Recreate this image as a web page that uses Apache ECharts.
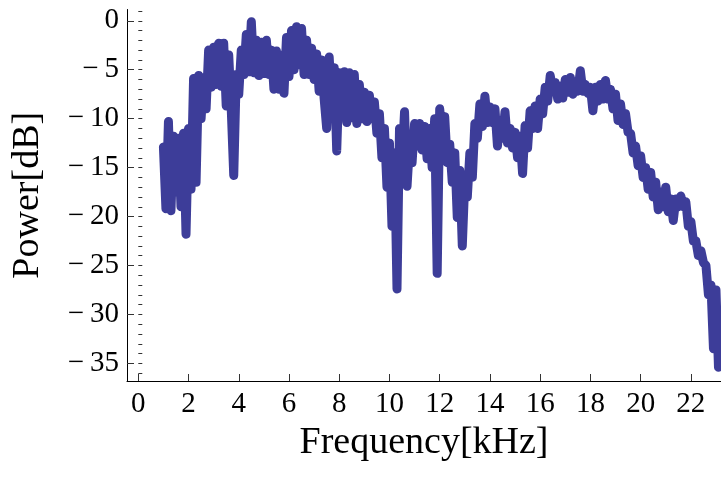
<!DOCTYPE html>
<html>
<head>
<meta charset="utf-8">
<script src="https://cdn.jsdelivr.net/npm/echarts@6/dist/echarts.min.js"></script>
<style>
  html, body { margin: 0; padding: 0; background: #ffffff; }
  #chart { width: 721px; height: 483px; }
</style>
</head>
<body>
<div id="chart"></div>
<script>
// Measured power spectrum, one reading every 0.1 kHz starting at 1.0 kHz.
const startKHz = 1.0;
const stepKHz = 0.1;
const powerDb = [
  -12.9, -19.2, -10.3, -19.4, -11.8, -17.5, -12.0, -19.0, -11.5, -21.8,   // 1.0 - 1.9
  -11.0, -17.2,  -5.9, -16.5,  -5.6, -10.0,  -5.8,  -9.0,  -3.0,  -6.8,   // 2.0 - 2.9
   -2.7,  -6.5,  -2.3,  -6.7,  -2.3,  -8.7,  -3.5,  -9.0, -15.8,  -5.5,   // 3.0 - 3.9
   -7.5,  -3.0,  -5.5,  -1.4,  -5.2,  -0.1,  -5.3,  -2.0,  -5.6,  -2.2,   // 4.0 - 4.9
   -5.4,  -2.0,  -5.5,  -3.0,  -7.0,  -3.1,  -7.0,  -3.5,  -7.4,  -1.7,   // 5.0 - 5.9
   -5.7,  -1.0,  -5.0,  -0.6,  -4.5,  -0.8,  -5.5,  -2.0,  -5.5,  -2.8,   // 6.0 - 6.9
   -6.0,  -3.4,  -7.2,  -4.0,  -8.0, -11.0,  -3.7,  -8.5,  -4.8, -13.3,   // 7.0 - 7.9
   -5.3,  -9.7,  -5.2, -10.4,  -5.3,  -9.9,  -5.5, -10.5,  -6.5, -10.0,   // 8.0 - 8.9
   -7.3, -10.3,  -7.6, -10.0,  -8.3, -11.5,  -9.5, -14.0, -11.0, -17.0,   // 9.0 - 9.9
  -12.5, -21.0, -13.5, -27.4, -11.0, -14.5,  -9.3, -16.9, -12.6, -14.5,   // 10.0 - 10.9
  -10.5, -12.8, -10.5, -13.2, -10.8, -14.1, -11.0, -15.0, -10.0, -25.8,   // 11.0 - 11.9
   -9.0, -11.5,  -9.8, -14.5, -12.6, -16.5, -13.5, -20.1, -15.3, -23.0,   // 12.0 - 12.9
  -16.3, -18.0, -13.5, -16.0, -10.5, -12.0,  -8.5, -10.8,  -7.7, -10.4,   // 13.0 - 13.9
   -8.8, -10.4,  -9.0, -12.8, -10.5, -12.0,  -9.3, -12.5, -11.0, -13.0,   // 14.0 - 14.9
  -11.4, -14.0, -11.8, -15.6, -10.7, -13.0,  -9.2, -11.0,  -8.7, -11.0,   // 15.0 - 15.9
   -8.0,  -9.5,  -6.8,  -8.2,  -5.6,  -7.0,  -6.3,  -8.0,  -6.7,  -7.9,   // 16.0 - 16.9
   -6.0,  -7.3,  -5.8,  -7.5,  -6.2,  -7.2,  -5.1,  -7.2,  -6.5,  -7.4,   // 17.0 - 17.9
   -6.8,  -9.2,  -6.8,  -8.2,  -6.5,  -8.0,  -6.1,  -8.0,  -7.0,  -9.0,   // 18.0 - 18.9
   -7.5, -10.2,  -8.5, -10.6,  -9.5, -11.4, -11.5, -13.5, -12.8, -14.8,   // 19.0 - 19.9
  -13.8, -16.0, -15.0, -17.2, -15.5, -18.0, -16.5, -19.3, -17.5, -19.0,   // 20.0 - 20.9
  -17.0, -19.5, -18.2, -20.4, -18.2, -19.0, -17.9, -19.0, -18.5, -21.0,   // 21.0 - 21.9
  -20.5, -22.5, -22.5, -24.0, -23.5, -24.7, -25.0, -28.0, -27.0, -33.5,   // 22.0 - 22.9
  -27.5, -35.4                                                            // 23.0 - 23.1
];

const freqTicks = [0, 2, 4, 6, 8, 10, 12, 14, 16, 18, 20, 22];
const powerTicks = [-35, -30, -25, -20, -15, -10, -5, 0];
const powerMinorTicks = [-36, -35, -34, -33, -32, -31, -30, -29, -28, -27, -26, -25,
  -24, -23, -22, -21, -20, -19, -18, -17, -16, -15, -14, -13, -12, -11, -10,
  -9, -8, -7, -6, -5, -4, -3, -2, -1, 0, 1];

const SERIF = "'Liberation Serif', 'Times New Roman', serif";
const MARK = '#3d3d99';

// Pair each reading with its frequency (index-based grid avoids float drift).
const points = powerDb.map((p, i) => [(startKHz * 10 + i * stepKHz * 10) / 10, p]);

const minusLabel = v => (v < 0 ? '\u2212\u2009' + Math.abs(v) : String(v));

const chart = echarts.init(document.getElementById('chart'), null, { renderer: 'canvas' });
chart.setOption({
  animation: false,
  backgroundColor: '#ffffff',
  grid: { left: 127, right: 0, top: 9.5, bottom: 102, containLabel: false },
  xAxis: {
    type: 'value',
    min: -0.45,
    max: 23.2,
    name: 'Frequency[kHz]',
    nameLocation: 'middle',
    nameGap: 32,
    nameTextStyle: { fontFamily: SERIF, fontSize: 38, color: '#000' },
    axisLine: { show: true, onZero: false, lineStyle: { color: '#000', width: 1 } },
    axisTick: { show: true, inside: true, length: 7, customValues: freqTicks,
      lineStyle: { color: '#333', width: 1 } },
    axisLabel: { customValues: freqTicks, fontFamily: SERIF, fontSize: 29, color: '#000', margin: 9 },
    splitLine: { show: false }
  },
  yAxis: [
    {
      type: 'value',
      min: -36.8,
      max: 1.15,
      name: 'Power[dB]',
      nameLocation: 'middle',
      nameRotate: 90,
      nameGap: 80,
      nameTextStyle: { fontFamily: SERIF, fontSize: 38, color: '#000' },
      axisLine: { show: true, onZero: false, lineStyle: { color: '#000', width: 1 } },
      axisTick: { show: true, inside: true, length: 7, customValues: powerTicks,
        lineStyle: { color: '#333', width: 1 } },
      axisLabel: { customValues: powerTicks, formatter: minusLabel, fontFamily: SERIF,
        fontSize: 29, color: '#000', margin: 8 },
      splitLine: { show: false }
    },
    {
      type: 'value',
      min: -36.8,
      max: 1.15,
      position: 'left',
      axisLine: { show: false },
      axisTick: { show: true, inside: true, length: 4, customValues: powerMinorTicks,
        lineStyle: { color: '#333', width: 1 } },
      axisLabel: { show: false },
      splitLine: { show: false }
    }
  ],
  series: [
    {
      type: 'line',
      data: points,
      xAxisIndex: 0,
      yAxisIndex: 0,
      symbol: 'none',
      silent: true,
      lineStyle: { color: MARK, width: 9, cap: 'round', join: 'round' }
    }
  ]
});
</script>
</body>
</html>
